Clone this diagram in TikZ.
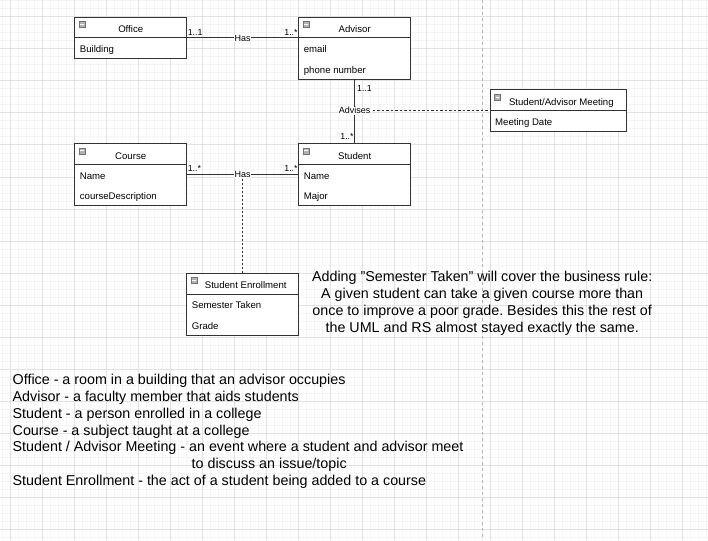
\documentclass[tikz,border=0pt]{standalone}
\usepackage{fontspec}
\setmainfont{Liberation Sans}
\usetikzlibrary{positioning}
\definecolor{gridmajor}{RGB}{226,226,226}
\definecolor{gridminor}{RGB}{245,245,245}
\definecolor{umlline}{RGB}{51,51,51}
\tikzstyle{classhead}=[rectangle,draw=umlline,fill=white,line width=1pt,outer sep=0pt,minimum width=112pt,
minimum height=20.7pt,inner sep=0pt,font=\fontsize{9.6}{11}\selectfont,text height=10pt,text depth=0pt]
\tikzstyle{classbody}=[rectangle,draw=umlline,fill=white,line width=1pt,outer sep=0pt,minimum width=112pt,inner sep=0pt]
\tikzstyle{attr}=[inner sep=0pt,anchor=west,font=\fontsize{9.6}{11}\selectfont,text height=8.6pt,text depth=0pt]
\tikzstyle{toggle}=[rectangle,draw=black!55,fill=black!30,line width=0.6pt,minimum size=6pt,inner sep=0pt,anchor=north west,
path picture={\fill[white] ([xshift=1.2pt,yshift=-0.5pt]path picture bounding box.west) rectangle ([xshift=-1.2pt,yshift=0.5pt]path picture bounding box.east);}]
\tikzstyle{assoc}=[draw=umlline,line width=1pt]
\tikzstyle{link}=[draw=umlline,line width=1pt,dash pattern=on 2.5pt off 2pt]
\tikzstyle{dots}=[draw=umlline,line width=1.4pt,dash pattern=on 2pt off 2pt]
\tikzstyle{mult}=[font=\fontsize{8.8}{10}\selectfont,inner xsep=0.6pt,inner ysep=2.4pt]
\tikzstyle{role}=[font=\fontsize{9}{10}\selectfont,fill=white,inner sep=0.6pt]
\tikzstyle{note}=[font=\fontsize{14.3}{16.7}\selectfont,inner sep=0pt]
\frenchspacing
\begin{document}
\begin{tikzpicture}[x=1pt,y=-1pt]
            \useasboundingbox (0,0) rectangle (708,540);
            \fill[white] (0,0) rectangle (708,540);

            % GRID PART

            \foreach \gx in {2,10,...,706} \draw[gridminor,line width=1pt] (\gx,0) -- (\gx,540);
            \foreach \gy in {1,9,...,537} \draw[gridminor,line width=1pt] (0,\gy) -- (708,\gy);
            \foreach \gx in {10,42,...,682} \draw[gridmajor,line width=1pt] (\gx,0) -- (\gx,540);
            \foreach \gy in {17,49,...,529} \draw[gridmajor,line width=1pt] (0,\gy) -- (708,\gy);
            \draw[black!30,line width=1pt,dash pattern=on 3pt off 3pt] (482.5,0) -- (482.5,540);

            % CLASSES

            \node[classhead,anchor=north west] (office) at (74.7,17.3) {Office};
            \node[classbody,minimum height=20.9pt,below=0pt of office] (officeB) {};
            \node[toggle] (officeT) at ([xshift=4pt,yshift=-4pt]office.north west) {};
            \node[attr] (building) at ([xshift=5pt,yshift=-10.35pt]officeB.north west) {Building};

            \node[classhead,right=112pt of office] (advisor) {Advisor};
            \node[classbody,minimum height=41.6pt,below=0pt of advisor] (advisorB) {};
            \node[toggle] (advisorT) at ([xshift=4pt,yshift=-4pt]advisor.north west) {};
            \node[attr] (email) at ([xshift=5pt,yshift=-10.35pt]advisorB.north west) {email};
            \node[attr] (phone) at ([xshift=5pt,yshift=-31.05pt]advisorB.north west) {phone number};

            \node[classhead,below=84.8pt of officeB] (course) {Course};
            \node[classbody,minimum height=41.4pt,below=0pt of course] (courseB) {};
            \node[toggle] (courseT) at ([xshift=4pt,yshift=-4pt]course.north west) {};
            \node[attr] (cname) at ([xshift=5pt,yshift=-10.35pt]courseB.north west) {Name};
            \node[attr] (cdesc) at ([xshift=5pt,yshift=-31.05pt]courseB.north west) {courseDescription};

            \node[classhead,right=112pt of course] (student) {Student};
            \node[classbody,minimum height=41.4pt,below=0pt of student] (studentB) {};
            \node[toggle] (studentT) at ([xshift=4pt,yshift=-4pt]student.north west) {};
            \node[attr] (sname) at ([xshift=5pt,yshift=-10.35pt]studentB.north west) {Name};
            \node[attr] (major) at ([xshift=5pt,yshift=-31.05pt]studentB.north west) {Major};

            \node[classhead,anchor=north west,minimum width=136.7pt] (meeting) at (490,90) {\hspace*{6pt}Student/Advisor Meeting};
            \node[classbody,minimum width=136.7pt,minimum height=20.7pt,below=0pt of meeting] (meetingB) {};
            \node[toggle] (meetingT) at ([xshift=4pt,yshift=-4pt]meeting.north west) {};
            \node[attr] (mdate) at ([xshift=5pt,yshift=-10.35pt]meetingB.north west) {Meeting Date};

            \node[classhead,anchor=north west] (enroll) at (186.7,273.3) {\hspace*{6pt}Student Enrollment};
            \node[classbody,minimum height=41.4pt,below=0pt of enroll] (enrollB) {};
            \node[toggle] (enrollT) at ([xshift=4pt,yshift=-4pt]enroll.north west) {};
            \node[attr] (semester) at ([xshift=5pt,yshift=-10.35pt]enrollB.north west) {Semester Taken};
            \node[attr] (grade) at ([xshift=5pt,yshift=-31.05pt]enrollB.north west) {Grade};

            % ASSOCIATIONS

            \path[assoc] (office.south east) node[mult,anchor=south west] {1..1}
                -- coordinate (hasA) (advisor.south west) node[mult,anchor=south east] {1..*};
            \path[assoc] (advisorB.south) node[mult,anchor=north west,inner xsep=2pt,inner ysep=5pt] {1..1}
                -- (student.north) node[mult,anchor=south east,inner ysep=3.8pt] {1..*};
            \path[assoc] ([yshift=-10.35pt]courseB.north east) node[mult,anchor=south west,inner ysep=3pt] {1..*}
                -- coordinate (hasB) ([yshift=-10.35pt]studentB.north west) node[mult,anchor=south east,inner ysep=3pt] {1..*};
            \coordinate (advises) at (advisorB.south |- meeting.south);

            \path[link] (advises) -- (meeting.south west);
            \path[dots] (hasB) -- (enroll.north);

            \node[role] (hasAL) at (hasA) {Has};
            \node[role] (advisesL) at (advises) {Advises};
            \node[role] (hasBL) at (hasB) {Has};

            % NOTES

            \node[note,align=center,anchor=north] (rule) at (482.2,271.4) {Adding "Semester Taken" will cover the business rule:\\
                A given student can take a given course more than\\
                once to improve a poor grade. Besides this the rest of\\
                the UML and RS almost stayed exactly the same.};
            \node[note,align=left,anchor=north west] (defs) at (12.5,374.4) {Office - a room in a building that an advisor occupies\\
                Advisor - a faculty member that aids students\\
                Student - a person enrolled in a college\\
                Course - a subject taught at a college\\
                Student / Advisor Meeting - an event where a student and advisor meet\\
                \hspace*{179pt}to discuss an issue/topic\\
                Student Enrollment - the act of a student being added to a course};

\end{tikzpicture}
\end{document}
